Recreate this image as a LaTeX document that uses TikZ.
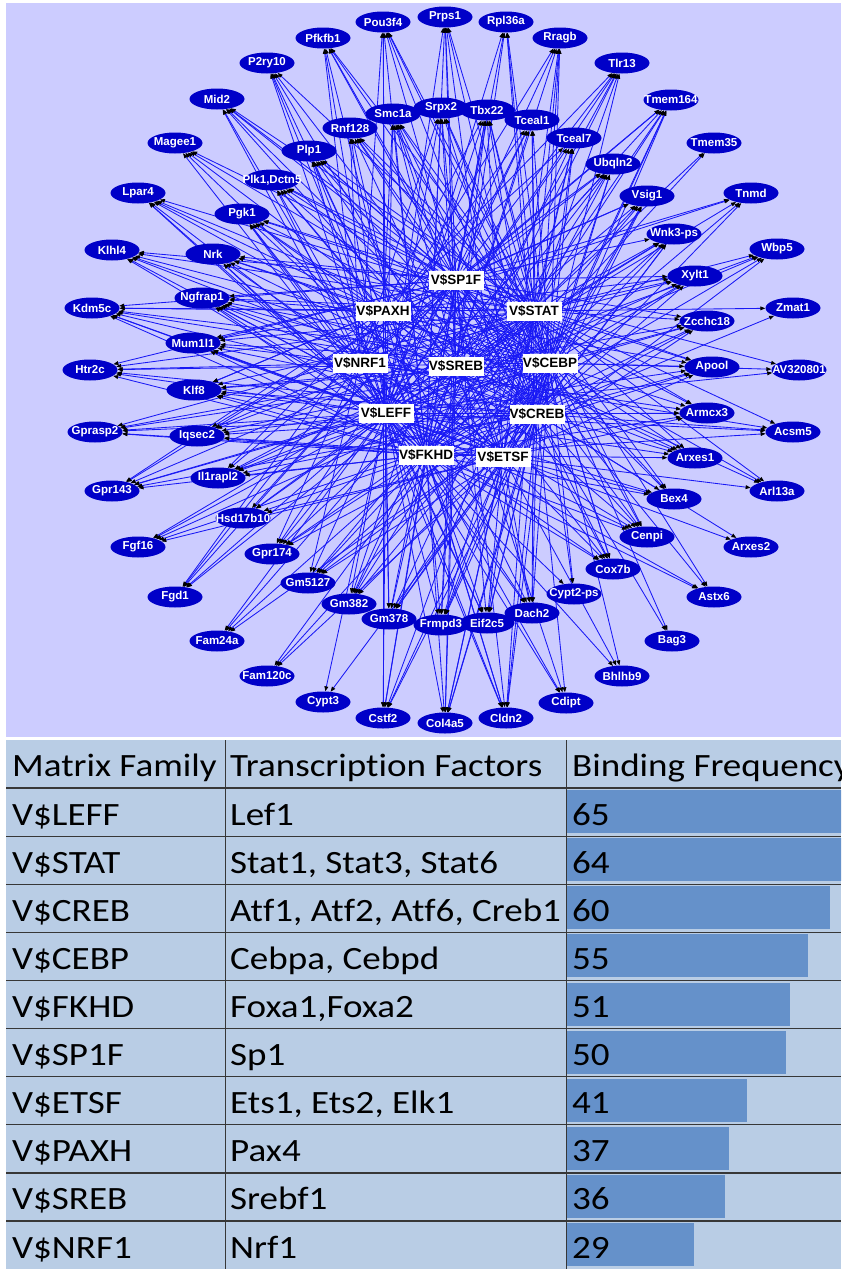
\documentclass[tikz,border=0pt]{standalone}
\usepackage{fontspec}
\usepackage{graphicx}
\setmainfont{Liberation Sans}
\newfontfamily\tabfont[Ligatures=NoCommon]{Carlito}
\usetikzlibrary{shapes.geometric,arrows.meta}
\pgfdeclarelayer{bg}
\pgfdeclarelayer{edges}
\pgfsetlayers{bg,edges,main}
\definecolor{lav}{RGB}{204,204,255}
\definecolor{genefill}{RGB}{0,0,200}
\definecolor{edgeblue}{RGB}{25,25,245}
\definecolor{cell}{RGB}{185,205,229}
\definecolor{barc}{RGB}{101,145,202}
\definecolor{gridc}{RGB}{55,55,55}
% table cells are set a little wide
\newcommand\widetext[1]{\scalebox{1.14}[1]{#1}}

\begin{document}
\begin{tikzpicture}[x=1pt,y=-1pt,
  genebox/.style={ellipse, fill=genefill, minimum width=55pt, minimum height=21pt,
    inner sep=0pt, text=white, font=\fontsize{11.5}{12}\selectfont\bfseries},
  tfbox/.style={rectangle, fill=white, minimum width=55pt, minimum height=19pt,
    inner sep=0pt, font=\fontsize{13.5}{14}\selectfont\bfseries},
  link/.style={draw=edgeblue, line width=0.85pt,
    -{Triangle[length=5pt,width=3.8pt,color=black,fill=black]}},
  tabtext/.style={anchor=base west, inner sep=0pt,
    font=\tabfont\fontsize{32.5}{38}\selectfont},
  rowline/.style={draw=gridc, line width=1.3pt},
  colline/.style={draw=gridc, line width=1pt},
]
\useasboundingbox (0,0) rectangle (841,1269);

% network backdrop
\begin{pgfonlayer}{bg}
  \fill[lav] (6,3) rectangle (841,737);
\end{pgfonlayer}

% matrix families (regulators)
\node[tfbox] (tP) at (456,280) {V\$SP1F};
\node[tfbox] (tX) at (383,311) {V\$PAXH};
\node[tfbox] (tS) at (534,311) {V\$STAT};
\node[tfbox] (tN) at (360,363) {V\$NRF1};
\node[tfbox] (tR) at (456,366) {V\$SREB};
\node[tfbox] (tE) at (550,363) {V\$CEBP};
\node[tfbox] (tL) at (386,413) {V\$LEFF};
\node[tfbox] (tC) at (537,414) {V\$CREB};
\node[tfbox] (tF) at (426,455) {V\$FKHD};
\node[tfbox] (tT) at (503,457) {V\$ETSF};

% target genes with the families that bind them
\foreach \nm/\x/\y/\lab/\tfs in {
  g01/383/22/Pou3f4/{L,S,C,E,F,P,X,N},
  g02/445/17/Prps1/{L,S,C,F,P,T,R},
  g03/506/22/Rpl36a/{L,S,E,P,R,C},
  g04/560/38/Rragb/{L,C,E,F,T,N,S},
  g05/622/63/Tlr13/{L,S,C,P,X,R,F},
  g06/671/100/Tmem164/{L,S,C,E,F,T,N,P},
  g07/714/143/Tmem35/{S,F},
  g08/751/193/Tnmd/{L,C,E,P,X},
  g09/777/249/Wbp5/{L,S,F,T,R},
  g10/793/308/Zmat1/{S,C},
  g11/799/370/AV320801/{L,E,P},
  g12/793/432/Acsm5/{L,S,C,F,N},
  g13/777/491/Arl13a/{S,E,T,X},
  g14/751/547/Arxes2/{L,C},
  g15/714/597/Astx6/{L,S,F,P},
  g16/672/641/Bag3/{C,E},
  g17/622/676/Bhlhb9/{L,S,T},
  g18/566/703/Cdipt/{L,C,F,R},
  g19/506/718/Cldn2/{L,S,C,E,P,X,N,F},
  g20/445/723/Col4a5/{L,S,C,E,F,P,T,R},
  g21/383/718/Cstf2/{L,S,E,F,P,X,C},
  g22/323/702/Cypt3/{L,C},
  g23/267/676/Fam120c/{S,E,T},
  g24/217/641/Fam24a/{L,C,F,R},
  g25/175/597/Fgd1/{L,S,P,X,N},
  g26/138/547/Fgf16/{L,S,C,E,T},
  g27/112/491/Gpr143/{L,S,C,F,P,X,E},
  g28/95/432/Gprasp2/{L,S,C,E,F,T,R},
  g29/90/370/Htr2c/{L,S,E,F,P,N,C},
  g30/92/308/Kdm5c/{L,S,C,E,F,P,X,T,R},
  g31/112/250/Klhl4/{L,S,C,E,P,T,R},
  g32/138/193/Lpar4/{L,S,C,F,X,N,E},
  g33/175/143/Magee1/{L,C,E,P,T},
  g34/217/99/Mid2/{L,S,E,F,P,R,C},
  g35/267/63/P2ry10/{S,C,F,X,T,L},
  g36/323/38/Pfkfb1/{L,S,C,E,P,N,F},
  g37/393/114/Smc1a/{L,S,C,E,F,P,T,X,R},
  g38/441/108/Srpx2/{L,S,C,E,F,P,R,N},
  g39/487/110/Tbx22/{L,S,C,E,F,T,X,R,P},
  g40/532/120/Tceal1/{L,S,C,F,P,N,E},
  g41/574/138/Tceal7/{L,S,E,F,T,X,C},
  g42/613/164/Ubqln2/{L,S,C,E,P,R,N,F},
  g43/647/196/Vsig1/{L,S,C,E,F,P,T,X},
  g44/674/234/Wnk3-ps/{L,S,C,F,P,T,R,E},
  g45/695/276/Xylt1/{L,S,C,E,F,X,N,P},
  g46/707/321/Zcchc18/{L,S,C,E,F,P,T,R},
  g47/712/367/Apool/{L,S,C,E,F,P,X,T},
  g48/707/413/Armcx3/{L,S,C,E,P,T,N,F},
  g49/695/458/Arxes1/{L,S,C,F,X,R,E},
  g50/674/499/Bex4/{L,S,C,E,F,P,T},
  g51/647/537/Cenpi/{L,S,C,E,F,P,X,N},
  g52/613/569/Cox7b/{L,S,C,E,F,T,R,P},
  g53/574/594/Cypt2-ps/{L,S,E},
  g54/532/613/Dach2/{L,S,C,E,F,P,T,X},
  g55/487/623/Eif2c5/{L,S,C,E,F,P,N,T},
  g56/441/625/Frmpd3/{L,S,C,E,F,P,T,R},
  g57/389/619/Gm378/{L,S,C,E,P,X,T,F},
  g58/349/604/Gm382/{L,S,C,F,P,R,E},
  g59/308/583/Gm5127/{L,S,C,E,F,T,N},
  g60/272/554/Gpr174/{L,S,C,E,P,X,F},
  g61/243/518/Hsd17b10/{L,S,F,P,T},
  g62/218/478/Il1rapl2/{L,S,C,E,F,X,R,P},
  g63/197/436/Iqsec2/{L,S,C,E,F,P,T,N},
  g64/194/390/Klf8/{L,S,C,E,F,P,X,R,T},
  g65/193/343/Mum1l1/{L,S,C,E,F,P,T,X,N},
  g66/202/298/Ngfrap1/{L,S,C,E,F,P,T,R,N,X},
  g67/213/254/Nrk/{L,S,C,E,F,P,X,T},
  g68/242/214/Pgk1/{L,S,C,E,F,P,R,N,T},
  g69/272/180/{Plk1,Dctn5}/{L,S,C,E,F,T,X,P},
  g70/309/151/Plp1/{L,S,C,E,P,X,R,F},
  g71/350/128/Rnf128/{L,S,C,F,P,T,N,E}}
{
  \node[genebox] (\nm) at (\x,\y) {\makebox[0pt]{\lab}};
  \begin{pgfonlayer}{edges}
    \foreach \t in \tfs {\draw[link] (t\t) -- (\nm);}
  \end{pgfonlayer}
}

% binding frequency table
\begin{scope}
  \clip (0,0) rectangle (841,1269);
  \fill[cell] (6,740) rectangle (841,1269);
  \node[tabtext] (h1) at (12,776) {\widetext{Matrix Family}};
  \node[tabtext] (h2) at (230,776) {\widetext{Transcription Factors}};
  \node[tabtext] (h3) at (572,776) {\widetext{Binding Frequency}};
  \foreach \i/\fam/\tf/\v in {
    1/V\$LEFF/Lef1/65,
    2/V\$STAT/{Stat1, Stat3, Stat6}/64,
    3/V\$CREB/{Atf1, Atf2, Atf6, Creb1}/60,
    4/V\$CEBP/{Cebpa, Cebpd}/55,
    5/V\$FKHD/{Foxa1,Foxa2}/51,
    6/V\$SP1F/Sp1/50,
    7/V\$ETSF/{Ets1, Ets2, Elk1}/41,
    8/V\$PAXH/Pax4/37,
    9/V\$SREB/Srebf1/36,
    10/V\$NRF1/Nrf1/29}
  {
    \pgfmathsetmacro\rt{740+48.1*\i}
    \pgfmathsetmacro\bx{min(567+4.38*\v,845)}
    \fill[barc] (567,\rt+2) rectangle (\bx,\rt+45);
    \node[tabtext] (fam\i) at (12,\rt+37) {\widetext{\fam}};
    \node[tabtext] (tf\i) at (230,\rt+37) {\widetext{\tf}};
    \node[tabtext] (val\i) at (572,\rt+37) {\widetext{\v}};
    \draw[rowline] (6,\rt) -- (841,\rt);
  }
  \draw[colline] (225,740) -- (225,1269);
  \draw[colline] (566,740) -- (566,1269);
\end{scope}
\end{tikzpicture}
\end{document}
